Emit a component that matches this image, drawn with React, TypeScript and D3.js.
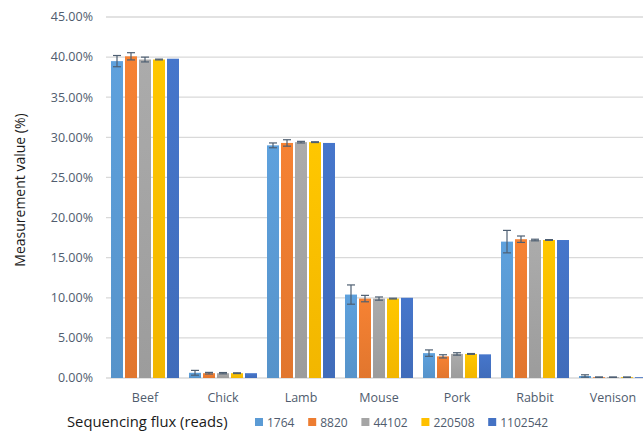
import React from "react";
import * as d3 from "d3";

const categories = ["Beef", "Chick", "Lamb", "Mouse", "Pork", "Rabbit", "Venison"];
const seriesNames = ["1764", "8820", "44102", "220508", "1102542"];
const seriesColors = ["#5B9BD5", "#ED7D31", "#A5A5A5", "#FFC000", "#4472C4"];
// values per series (percent), in category order
const s1764 = [39.5, 0.65, 29.0, 10.4, 3.1, 17.0, 0.25];
const s8820 = [40.1, 0.6, 29.3, 9.9, 2.7, 17.3, 0.1];
const s44102 = [39.7, 0.6, 29.4, 9.9, 3.0, 17.2, 0.1];
const s220508 = [39.7, 0.6, 29.4, 9.9, 3.0, 17.2, 0.1];
const s1102542 = [39.8, 0.6, 29.3, 10.0, 2.95, 17.2, 0.1];
// error (± percent)
const e1764 = [0.7, 0.3, 0.3, 1.2, 0.4, 1.4, 0.15];
const e8820 = [0.45, 0.1, 0.4, 0.4, 0.2, 0.4, 0.03];
const e44102 = [0.3, 0.08, 0.1, 0.2, 0.15, 0.1, 0.02];
const e220508 = [0.05, 0.05, 0.05, 0.05, 0.05, 0.05, 0.02];
const e1102542 = [0, 0, 0, 0, 0, 0, 0];
const yTicks = [0, 5, 10, 15, 20, 25, 30, 35, 40, 45];

const seriesValues = [s1764, s8820, s44102, s220508, s1102542];
const seriesErrors = [e1764, e8820, e44102, e220508, e1102542];

const W = 643;
const H = 431;
const FONT = "'Open Sans', 'Liberation Sans', sans-serif";
const LABEL = "#505C6E";

export default function App() {
  const y = d3.scaleLinear().domain([0, 45]).range([378, 17]);
  const x0 = d3.scaleBand<string>().domain(categories).range([106, 652]).paddingInner(0).paddingOuter(0);
  const groupPad = 5;
  const x1 = d3
    .scaleBand<string>()
    .domain(seriesNames)
    .range([groupPad, x0.bandwidth() - groupPad])
    .paddingInner(2 / 14)
    .paddingOuter(0);
  const bw = x1.bandwidth();

  const digitW = 6.8;
  let lx = 255;
  const legendItems = seriesNames.map((n, i) => {
    const item = { name: n, color: seriesColors[i], x: lx };
    lx += 8 + 4 + n.length * digitW + 14;
    return item;
  });

  return (
    <svg
      width={W}
      height={H}
      style={{ position: "absolute", left: 0, top: 0, background: "#fff" }}
      fontFamily={FONT}
    >
      <defs>
        {seriesColors.map((c, i) => {
          const base = d3.color(c)!;
          return (
            <linearGradient key={i} id={`g${i}`} x1="0" y1="0" x2="0" y2="1">
              <stop offset="0%" stopColor={base.brighter(0.1).formatHex()} />
              <stop offset="100%" stopColor={base.darker(0.15).formatHex()} />
            </linearGradient>
          );
        })}
      </defs>
      {/* gridlines */}
      {yTicks.map((t) => (
        <line key={t} x1={106} x2={W} y1={y(t)} y2={y(t)} stroke="#D9D9D9" strokeWidth={1.3} />
      ))}
      {/* y tick labels */}
      {yTicks.map((t) => (
        <text key={t} x={93} y={y(t)} dy="0.35em" textAnchor="end" fontSize={12.5} fill={LABEL}>
          {t.toFixed(2)}%
        </text>
      ))}
      {/* bars */}
      {categories.map((c, ci) => (
        <g key={c} transform={`translate(${x0(c)},0)`}>
          {seriesNames.map((s, si) => {
            const v = seriesValues[si][ci];
            const e = seriesErrors[si][ci];
            const bx = x1(s)!;
            const cx = bx + bw / 2;
            return (
              <g key={s}>
                <rect x={bx} y={y(v)} width={bw} height={y(0) - y(v)} fill={`url(#g${si})`} />
                {e > 0 && (
                  <g stroke="#4E5F72" strokeWidth={1.2}>
                    <line x1={cx} x2={cx} y1={y(v + e)} y2={y(v - e)} />
                    <line x1={cx - 4} x2={cx + 4} y1={y(v + e)} y2={y(v + e)} />
                    <line x1={cx - 4} x2={cx + 4} y1={y(v - e)} y2={y(v - e)} />
                  </g>
                )}
              </g>
            );
          })}
        </g>
      ))}
      {/* category labels */}
      {categories.map((c) => (
        <text key={c} x={x0(c)! + x0.bandwidth() / 2} y={402} textAnchor="middle" fontSize={12.5} fill={LABEL}>
          {c}
        </text>
      ))}
      {/* y axis title */}
      <text
        transform={`translate(25,190) rotate(-90)`}
        textAnchor="middle"
        fontSize={14}
        fill="#1a1a1a"
      >
        Measurement value (%)
      </text>
      {/* legend */}
      <text x={67} y={427} fontSize={14.8} fill="#1a1a1a">
        Sequencing flux (reads)
      </text>
      {legendItems.map((it, i) => (
        <g key={it.name}>
          <rect x={it.x} y={418} width={8} height={8} fill={it.color} />
          <text x={it.x + 12} y={427} fontSize={12} fill={LABEL}>
            {it.name}
          </text>
        </g>
      ))}
    </svg>
  );
}
